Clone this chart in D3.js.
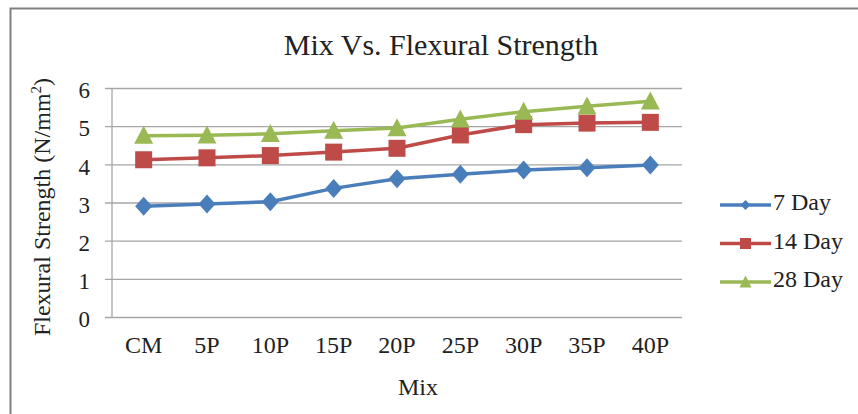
<!DOCTYPE html>
<html><head><meta charset="utf-8">
<script src="https://cdn.jsdelivr.net/npm/d3@7"></script>
<style>
html,body{margin:0;padding:0;background:#fff;}
svg{display:block;font-family:"Liberation Serif","Times New Roman",serif;}
</style></head>
<body>
<svg id="chart" width="858" height="414"></svg>
<script>
const categories = ["CM","5P","10P","15P","20P","25P","30P","35P","40P"];
const day7  = [2.90, 2.96, 3.02, 3.37, 3.62, 3.74, 3.85, 3.91, 3.98];
const day14 = [4.12, 4.17, 4.23, 4.32, 4.42, 4.77, 5.04, 5.08, 5.10];
const day28 = [4.75, 4.76, 4.80, 4.88, 4.95, 5.18, 5.38, 5.52, 5.65];
const yTicks = [0,1,2,3,4,5,6];
const seriesNames = ["7 Day","14 Day","28 Day"];
const seriesColors = ["#4a7ebb","#be4b48","#98b954"];
const seriesShapes = ["diamond","square","triangle"];
const titleText = "Mix Vs. Flexural Strength";
const xTitle = "Mix";

const svg = d3.select("#chart");
const W = 858, H = 414;
const m = {left:112, right:176, top:88, bottom:97};
const x = d3.scaleBand().domain(categories).range([m.left, W - m.right]);
const y = d3.scaleLinear().domain([0,6]).range([H - m.bottom, m.top]);
const FONT = "Liberation Serif, Times New Roman, serif";

// frame
svg.append("path").attr("d", `M10.5,${H} V8.5 H${W}`).attr("fill","none").attr("stroke","#808080").attr("stroke-width",2);

// gridlines + y labels
const yAxis = d3.axisLeft(y).tickValues(yTicks).tickSize(-(W - m.right - m.left)).tickFormat(d3.format("d")).tickPadding(22);
const gy = svg.append("g").attr("transform",`translate(${m.left},0)`).call(yAxis);
gy.select(".domain").remove();
gy.selectAll(".tick line").attr("stroke","#a6a6a6").attr("stroke-width",1.3).attr("x1",-7);
gy.selectAll(".tick text").attr("font-size",23).attr("fill","#222").attr("font-family",FONT).attr("dy","0.42em");
svg.append("line").attr("x1",m.left).attr("x2",m.left).attr("y1",m.top).attr("y2",H-m.bottom).attr("stroke","#a6a6a6").attr("stroke-width",1.3);

// x axis labels
const xAxis = d3.axisBottom(x).tickSize(0).tickPadding(19);
const gx = svg.append("g").attr("transform",`translate(0,${H - m.bottom})`).call(xAxis);
gx.select(".domain").remove();
gx.selectAll(".tick text").attr("font-size",24).attr("fill","#222").attr("font-family",FONT);

// titles
svg.append("text").attr("x",441).attr("y",55).attr("text-anchor","middle").attr("font-size",30).attr("fill","#222").text(titleText);
svg.append("text").attr("x",418).attr("y",395).attr("text-anchor","middle").attr("font-size",24).attr("fill","#222").text(xTitle);
const yt = svg.append("text").attr("transform","translate(50,207) rotate(-90)").attr("text-anchor","middle").attr("font-size",24).attr("fill","#222");
yt.append("tspan").text("Flexural Strength  (N/mm");
yt.append("tspan").attr("font-size",15).attr("dy",-9).text("2");
yt.append("tspan").attr("dy",9).text(")");

function shapeType(shape, w, h){
  return {draw(ctx){
    if(shape==="diamond"){ ctx.moveTo(0,-h/2); ctx.lineTo(w/2,0); ctx.lineTo(0,h/2); ctx.lineTo(-w/2,0); ctx.closePath(); }
    else if(shape==="square"){ ctx.rect(-w/2,-h/2,w,h); }
    else { ctx.moveTo(0,-h*0.55); ctx.lineTo(w/2,h*0.45); ctx.lineTo(-w/2,h*0.45); ctx.closePath(); }
  }};
}
const bigSize = {diamond:[17,19], square:[17,17], triangle:[19,18]};
const smallSize = {diamond:[10,10], square:[11,11], triangle:[12,12]};

const allSeries = [day7, day14, day28];
const line = d3.line().x((d,i)=>x(categories[i]) + x.bandwidth()/2).y(d=>y(d));
allSeries.forEach((vals, s) => {
  svg.append("path").datum(vals).attr("d", line).attr("fill","none").attr("stroke",seriesColors[s]).attr("stroke-width",3.5);
  const sz = bigSize[seriesShapes[s]];
  svg.selectAll(null).data(vals).enter().append("path")
    .attr("d", d3.symbol().type(shapeType(seriesShapes[s], sz[0], sz[1])).size(1)())
    .attr("transform",(d,i)=>`translate(${x(categories[i]) + x.bandwidth()/2},${y(d)})`)
    .attr("fill",seriesColors[s]);
});

// legend
const lg = svg.append("g");
seriesNames.forEach((name, s) => {
  const cy = 205 + s*38.5;
  lg.append("line").attr("x1",720).attr("x2",771).attr("y1",cy).attr("y2",cy).attr("stroke",seriesColors[s]).attr("stroke-width",3.5);
  const sz = smallSize[seriesShapes[s]];
  lg.append("path").attr("d", d3.symbol().type(shapeType(seriesShapes[s], sz[0], sz[1])).size(1)()).attr("transform",`translate(745.5,${cy})`).attr("fill",seriesColors[s]);
  lg.append("text").attr("x",773).attr("y",cy+5).attr("font-size",24).attr("fill","#222").text(name);
});
</script>
</body></html>
